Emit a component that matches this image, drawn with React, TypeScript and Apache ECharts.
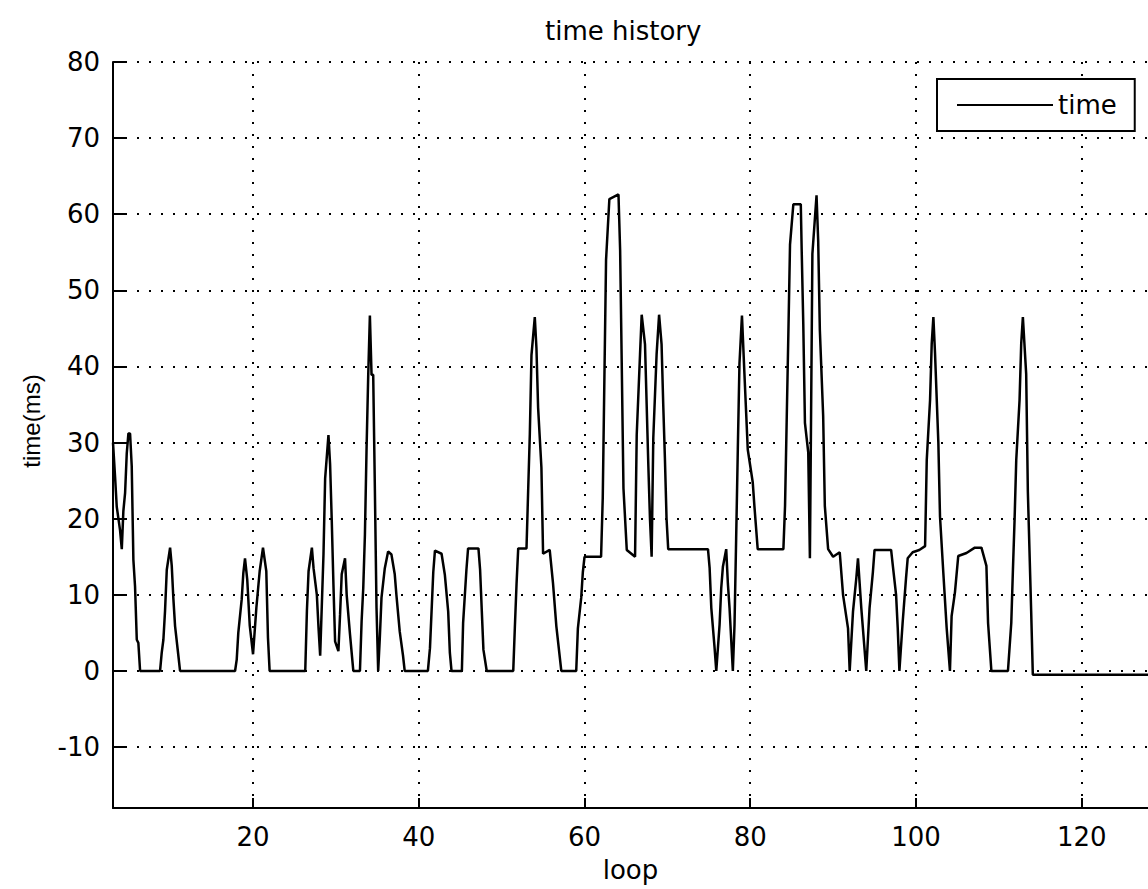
import React, { useEffect, useRef } from "react";
import * as echarts from "echarts";

// loop index (x) and time in ms (y)
const loopValues = [
  3.1, 3.35, 3.55, 3.95, 4.16, 4.35, 4.56, 4.76, 4.96, 5.16, 5.36, 5.56, 5.76, 5.97, 6.16, 6.37,
  8.78, 8.98, 9.18, 9.38, 9.59, 9.99, 10.19, 10.38, 10.59, 10.99, 11.19,
  17.83, 18.03, 18.22, 18.63, 18.83, 19.03, 19.3, 19.6, 20.0, 20.4, 20.8, 21.2, 21.6, 21.8, 22.0,
  26.3, 26.5, 26.7, 27.1, 27.3, 27.7, 27.9, 28.1, 28.5, 28.7, 29.1, 29.3, 29.5, 29.7, 29.9,
  30.3, 30.5, 30.7, 31.1, 31.3, 31.7, 32.1, 32.9, 33.1, 33.3, 33.5, 33.7, 33.9, 34.1, 34.3,
  34.5, 34.7, 34.9, 35.1, 35.3, 35.5, 35.9, 36.3, 36.7, 37.1, 37.3, 37.7, 38.1, 38.3,
  41.1, 41.35, 41.55, 41.75, 41.95, 42.75, 43.15, 43.55, 43.75, 43.95,
  45.2, 45.35, 45.55, 45.75, 45.95, 47.2, 47.4, 47.6, 47.8, 48.2,
  51.4, 51.6, 51.8, 52.0, 53.0, 53.2, 53.4, 53.6, 54.0, 54.2, 54.4, 54.8, 55.0, 55.8, 56.2, 56.6, 57.2,
  59.0, 59.2, 59.6, 59.8, 60.0, 62.0, 62.2, 62.4, 62.6, 63.0, 64.1, 64.3, 64.5, 64.7, 65.1,
  66.1, 66.3, 66.7, 66.9, 67.3, 67.5, 67.7, 67.9, 68.1, 68.3, 68.7, 69.0, 69.3, 69.5, 69.7, 69.9, 70.1,
  74.9, 75.1, 75.3, 75.7, 75.9, 76.3, 76.5, 76.7, 77.1, 77.3, 77.5, 77.9,
  78.1, 78.3, 78.5, 78.7, 79.0, 79.3, 79.7, 80.3, 80.5, 80.9,
  84.0, 84.2, 84.4, 84.6, 84.8, 85.2, 86.1, 86.2, 86.4, 86.6, 87.0, 87.2, 87.5,
  88.0, 88.2, 88.4, 88.8, 89.0, 89.4, 90.0, 90.8, 91.2, 91.8, 92.0,
  92.4, 92.8, 93.0, 93.4, 94.0, 94.4, 94.8, 95.0, 97.0, 97.2, 97.6, 97.8, 98.0,
  98.4, 98.8, 99.0, 99.6, 100.4, 101.1, 101.3, 101.7, 101.9, 102.1, 102.3, 102.7, 102.9, 103.3, 103.7, 104.1,
  104.3, 104.7, 105.1, 106.1, 107.1, 107.9, 108.5, 108.7, 109.1,
  111.1, 111.5, 111.7, 111.9, 112.1, 112.5, 112.7, 112.9, 113.3, 113.5, 113.9, 114.1, 128,
];

const timeValues = [
  30, 25.5, 21.6, 18.5, 16, 21, 23.4, 28.6, 31.2, 31.2, 26.9, 14.6, 11.1, 4.1, 3.7, 0,
  0, 2.4, 4.1, 7.9, 13.3, 16.2, 13.8, 9.6, 5.9, 2, 0,
  0, 1.5, 5, 9.4, 12.9, 14.8, 12, 6, 2.2, 8.3, 13.1, 16.2, 13.1, 4.4, 0,
  0, 7.9, 13.1, 16.2, 13.5, 10, 5.7, 2, 15.3, 25.3, 31, 27.1, 19.7, 11.4, 3.9,
  2.6, 7.4, 12.7, 14.8, 10, 4.8, 0, 0, 6.5, 10.9, 17.9, 29.3, 38.9, 46.7, 38.9,
  38.9, 24, 8.3, 0, 4.4, 9.6, 13.5, 15.7, 15.3, 12.7, 10, 5.2, 2, 0,
  0, 3, 8, 13, 15.8, 15.4, 12.6, 7.8, 2.4, 0,
  0, 6.3, 9.8, 13.3, 16.1, 16.1, 13.3, 8, 2.8, 0,
  0, 5.9, 11.5, 16.1, 16.1, 23.7, 31.1, 41.5, 46.5, 42.4, 34.6, 26.7, 15.4, 15.9, 11.5, 5.9, 0,
  0, 5.6, 9.6, 13, 15, 15, 22.7, 38.5, 54, 62, 62.6, 55.2, 39.8, 24, 15.9,
  15, 31, 41.6, 46.8, 42.9, 35, 27.1, 20, 15, 30.6, 41.6, 46.8, 42.9, 35, 28, 20, 16,
  16, 13.5, 8.3, 3, 0, 6.1, 10.9, 13.7, 16, 11.5, 8.3, 0,
  6, 17.4, 29.1, 40.4, 46.7, 39, 29.1, 24.8, 21.7, 16,
  16, 21.7, 33, 44.3, 56, 61.3, 61.3, 55.7, 45.6, 32.6, 28.7, 14.8, 54.8,
  62.5, 56.5, 44.8, 33.5, 21.7, 16, 15, 15.6, 10, 5.6, 0,
  7.8, 12.2, 14.8, 8.3, 0, 8.3, 13, 15.9, 15.9, 13.9, 10, 5.6, 0,
  6.5, 12.2, 14.8, 15.6, 15.9, 16.4, 27.7, 35.6, 43, 46.5, 41.7, 30, 20.3, 12.9, 5.7, 0,
  7.2, 10.3, 15.1, 15.5, 16.2, 16.2, 13.8, 6.3, 0,
  0, 6.3, 13.3, 19.9, 27.7, 35.6, 43, 46.5, 39, 23.6, 7.9, -0.5, -0.5,
];

const seriesName = "time";
const chartTitle = "time history";
const xAxisName = "loop";
const yAxisName = "time(ms)";

const FONT = "DejaVu Sans";

export default function App() {
  const ref = useRef<HTMLDivElement>(null);

  useEffect(() => {
    if (!ref.current) return;
    const chart = echarts.init(ref.current, null, { renderer: "svg" });
    const data = loopValues.map((x, i) => [x, timeValues[i]]);
    const gridLine = { color: "#000", width: 2, type: [2, 10] as any };

    chart.setOption({
      animation: false,
      backgroundColor: "#fff",
      title: {
        text: chartTitle,
        left: 545,
        top: 18,
        padding: 0,
        textStyle: { fontFamily: FONT, fontSize: 26, fontWeight: "normal", color: "#000" },
      },
      legend: {
        show: true,
        left: 937,
        top: 79,
        icon: "rect",
        itemWidth: 96,
        itemHeight: 2,
        padding: [13, 18, 13, 20],
        borderColor: "#000",
        borderWidth: 2,
        backgroundColor: "#fff",
        itemStyle: { color: "#000" },
        textStyle: { fontFamily: FONT, fontSize: 26, color: "#000" },
        data: [seriesName],
      },
      grid: { left: 113, right: 0, top: 62, bottom: 81 },
      xAxis: {
        type: "value",
        min: 3.1,
        max: 128,
        minInterval: 20,
        maxInterval: 20,
        name: xAxisName,
        nameLocation: "middle",
        nameGap: 49,
        nameTextStyle: { fontFamily: FONT, fontSize: 26, color: "#000" },
        axisLine: { onZero: false, lineStyle: { color: "#000", width: 2 } },
        axisTick: { inside: true, length: 10, lineStyle: { color: "#000", width: 2 } },
        axisLabel: {
          showMinLabel: false,
          showMaxLabel: false,
          margin: 16,
          fontFamily: FONT,
          fontSize: 26,
          color: "#000",
        },
        splitLine: { show: true, showMinLine: false, showMaxLine: false, lineStyle: gridLine },
      },
      yAxis: {
        type: "value",
        min: -18,
        max: 80,
        minInterval: 10,
        maxInterval: 10,
        name: yAxisName,
        nameLocation: "middle",
        nameGap: 70,
        nameTextStyle: {
          fontFamily: "Liberation Sans",
          fontSize: 24,
          color: "#000",
          padding: [0, 0, 0, 28],
        },
        axisLine: { onZero: false, lineStyle: { color: "#000", width: 2 } },
        axisTick: { inside: true, length: 12, lineStyle: { color: "#000", width: 2 } },
        axisLabel: {
          showMinLabel: false,
          margin: 13,
          fontFamily: FONT,
          fontSize: 26,
          color: "#000",
        },
        splitLine: { show: true, showMinLine: false, showMaxLine: true, lineStyle: gridLine },
      },
      series: [
        {
          type: "line",
          name: seriesName,
          data,
          symbol: "none",
          lineStyle: { color: "#000", width: 2.5 },
          itemStyle: { color: "#000" },
        },
      ],
    });

    return () => chart.dispose();
  }, []);

  return (
    <div
      ref={ref}
      style={{ position: "absolute", left: 0, top: 0, width: 1148, height: 889 }}
    />
  );
}
